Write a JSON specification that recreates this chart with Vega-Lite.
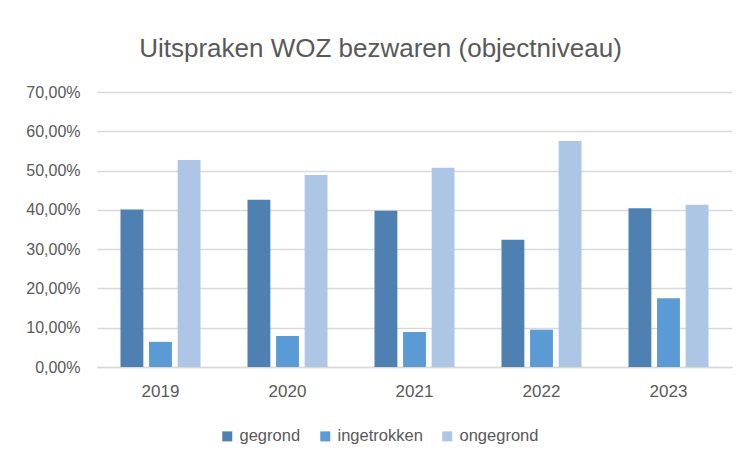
{
  "$schema": "https://vega.github.io/schema/vega-lite/v6.json",
  "width": 635,
  "height": 275,
  "autosize": {"type": "none"},
  "padding": {"left": 97, "top": 92, "right": 10, "bottom": 86},
  "background": "white",
  "title": {
    "text": "Uitspraken WOZ bezwaren (objectniveau)",
    "font": "Liberation Sans",
    "fontSize": 26,
    "fontWeight": "normal",
    "color": "#595959",
    "anchor": "middle",
    "baseline": "alphabetic",
    "offset": 34,
    "dx": -34,
    "dy": 33
  },
  "data": {
    "values": [
      {"jaar": "2019", "type": "gegrond", "waarde": 0.401},
      {"jaar": "2019", "type": "ingetrokken", "waarde": 0.064},
      {"jaar": "2019", "type": "ongegrond", "waarde": 0.527},
      {"jaar": "2020", "type": "gegrond", "waarde": 0.426},
      {"jaar": "2020", "type": "ingetrokken", "waarde": 0.079},
      {"jaar": "2020", "type": "ongegrond", "waarde": 0.489},
      {"jaar": "2021", "type": "gegrond", "waarde": 0.398},
      {"jaar": "2021", "type": "ingetrokken", "waarde": 0.089},
      {"jaar": "2021", "type": "ongegrond", "waarde": 0.507},
      {"jaar": "2022", "type": "gegrond", "waarde": 0.324},
      {"jaar": "2022", "type": "ingetrokken", "waarde": 0.095},
      {"jaar": "2022", "type": "ongegrond", "waarde": 0.575},
      {"jaar": "2023", "type": "gegrond", "waarde": 0.404},
      {"jaar": "2023", "type": "ingetrokken", "waarde": 0.175},
      {"jaar": "2023", "type": "ongegrond", "waarde": 0.413}
    ]
  },
  "mark": {"type": "bar"},
  "encoding": {
    "x": {
      "field": "jaar",
      "type": "nominal",
      "scale": {"paddingInner": 0.37, "paddingOuter": 0.185},
      "axis": {
        "title": null,
        "labelAngle": 0,
        "labelFont": "Liberation Sans",
        "labelFontSize": 17,
        "labelColor": "#595959",
        "labelPadding": 16,
        "ticks": false,
        "domainColor": "#d9d9d9",
        "domainWidth": 1.5
      }
    },
    "xOffset": {
      "field": "type",
      "type": "nominal",
      "scale": {"paddingInner": 0.2, "paddingOuter": 0}
    },
    "y": {
      "field": "waarde",
      "type": "quantitative",
      "scale": {"domain": [0, 0.7], "nice": false},
      "axis": {
        "title": null,
        "values": [0, 0.1, 0.2, 0.3, 0.4, 0.5, 0.6, 0.7],
        "labelExpr": "replace(format(datum.value, '.2%'), '.', ',')",
        "labelFont": "Liberation Sans",
        "labelFontSize": 16,
        "labelColor": "#595959",
        "labelPadding": 17,
        "ticks": false,
        "domain": false,
        "gridColor": "#d9d9d9",
        "gridWidth": 1.5
      }
    },
    "color": {
      "field": "type",
      "type": "nominal",
      "scale": {
        "domain": ["gegrond", "ingetrokken", "ongegrond"],
        "range": ["#4E80B1", "#5B9BD5", "#ADC6E6"]
      },
      "legend": {
        "title": null,
        "orient": "none",
        "direction": "horizontal",
        "legendX": 122,
        "legendY": 336,
        "symbolType": "square",
        "symbolSize": 100,
        "symbolStrokeWidth": 0,
        "labelFont": "Liberation Sans",
        "labelFontSize": 16.5,
        "labelColor": "#595959",
        "labelOffset": 4,
        "columnPadding": 16
      }
    }
  },
  "config": {
    "view": {"stroke": null}
  }
}
